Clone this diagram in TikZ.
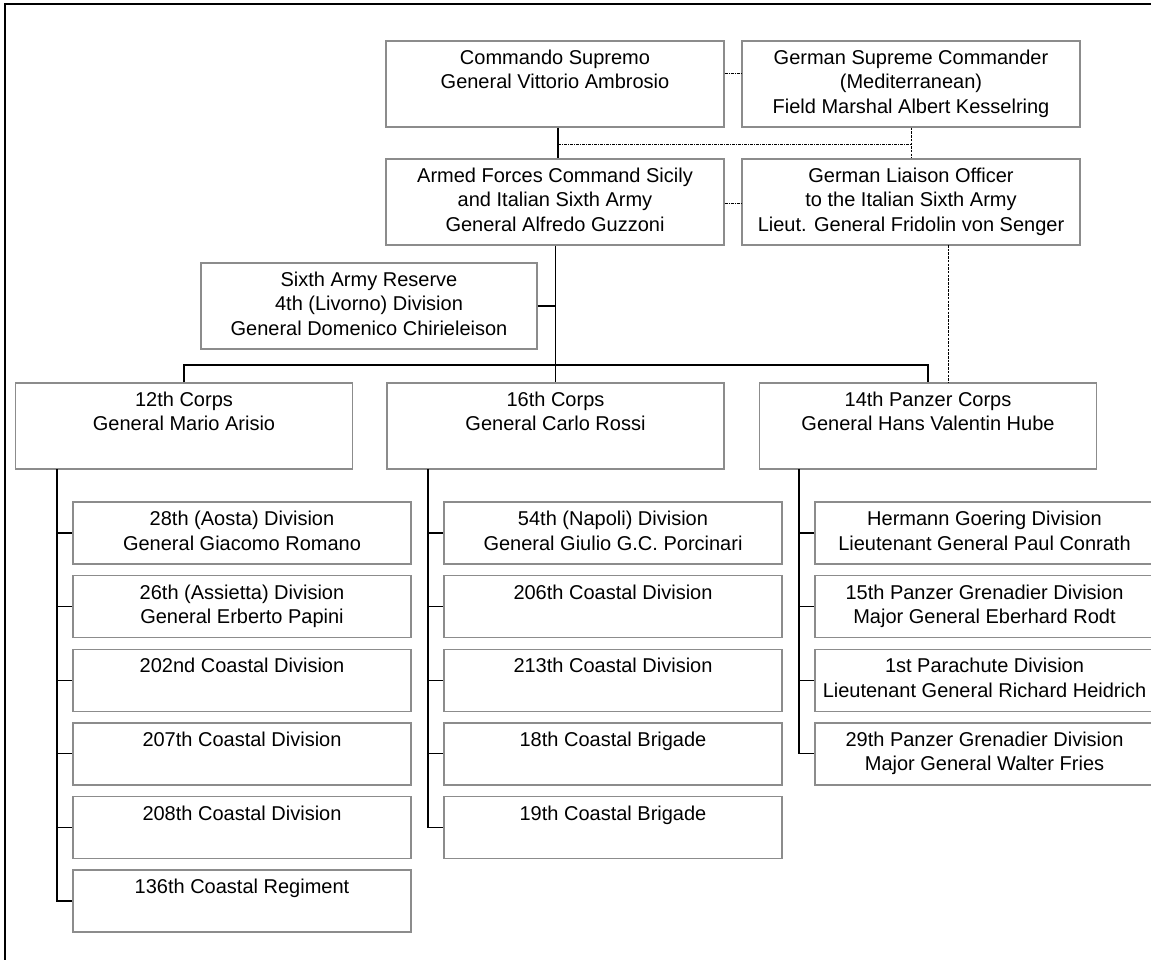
\documentclass[tikz,border=0pt]{standalone}
\usepackage{fontspec}
\setmainfont{Liberation Sans}
\begin{document}
\begin{tikzpicture}[x=1pt,y=-1pt]
\definecolor{boxgray}{RGB}{140,140,140}
\tikzset{
  box/.style={draw=boxgray, line width=1.4pt, inner sep=0pt, align=center,
    font=\fontsize{20}{24.5}\selectfont, fill=white},
  topbox/.style={box, minimum width=338pt, minimum height=86pt},
  reservebox/.style={box, minimum width=336pt, minimum height=86pt},
  corpsbox/.style={box, minimum width=337pt, minimum height=86pt},
  unitbox/.style={box, minimum width=338pt, minimum height=62pt},
  solidline/.style={black, line width=1.3pt},
  dotline/.style={black, line width=0.9pt, dash pattern=on 3pt off 1pt on 1pt off 1pt},
  fineline/.style={black, line width=0.9pt, dash pattern=on 2.5pt off 1.2pt},
  frameline/.style={black, line width=1.6pt}
}
\useasboundingbox (0,0) rectangle (1151,959);
% frame
\draw[frameline] (5,975) -- (5,4) -- (1170,4);

% top level
\node[topbox] (cmd) at (555,84) {\strut Commando Supremo\\\strut General Vittorio Ambrosio\\\strut};
\node[topbox] (gsc) at (911,84) {\strut German Supreme Commander\\\strut (Mediterranean)\\\strut Field Marshal Albert Kesselring};
\node[topbox] (afc) at (555,202) {\strut Armed Forces Command Sicily\\\strut and Italian Sixth Army\\\strut General Alfredo Guzzoni};
\node[topbox] (glo) at (911,202) {\strut German Liaison Officer\\\strut to the Italian Sixth Army\\\strut Lieut. General Fridolin von Senger};
\node[reservebox] (res) at (369,306) {\strut Sixth Army Reserve\\\strut 4th (Livorno) Division\\\strut General Domenico Chirieleison};

% corps
\node[corpsbox] (c12) at (184,426) {\strut 12th Corps\\\strut General Mario Arisio\\\strut};
\node[corpsbox] (c16) at (555.5,426) {\strut 16th Corps\\\strut General Carlo Rossi\\\strut};
\node[corpsbox] (c14) at (928,426) {\strut 14th Panzer Corps\\\strut General Hans Valentin Hube\\\strut};

% 12th corps units
\node[unitbox] (a1) at (242,533) {\strut 28th (Aosta) Division\\\strut General Giacomo Romano};
\node[unitbox] (a2) at (242,606.6) {\strut 26th (Assietta) Division\\\strut General Erberto Papini};
\node[unitbox] (a3) at (242,680.2) {\strut 202nd Coastal Division\\\strut};
\node[unitbox] (a4) at (242,753.8) {\strut 207th Coastal Division\\\strut};
\node[unitbox] (a5) at (242,827.4) {\strut 208th Coastal Division\\\strut};
\node[unitbox] (a6) at (242,901) {\strut 136th Coastal Regiment\\\strut};

% 16th corps units
\node[unitbox] (b1) at (613,533) {\strut 54th (Napoli) Division\\\strut General Giulio G.C. Porcinari};
\node[unitbox] (b2) at (613,606.6) {\strut 206th Coastal Division\\\strut};
\node[unitbox] (b3) at (613,680.2) {\strut 213th Coastal Division\\\strut};
\node[unitbox] (b4) at (613,753.8) {\strut 18th Coastal Brigade\\\strut};
\node[unitbox] (b5) at (613,827.4) {\strut 19th Coastal Brigade\\\strut};

% 14th panzer corps units
\node[unitbox, minimum width=339pt] (d1) at (984.5,533) {\strut Hermann Goering Division\\\strut Lieutenant General Paul Conrath};
\node[unitbox, minimum width=339pt] (d2) at (984.5,606.6) {\strut 15th Panzer Grenadier Division\\\strut Major General Eberhard Rodt};
\node[unitbox, minimum width=339pt] (d3) at (984.5,680.2) {\strut 1st Parachute Division\\\strut Lieutenant General Richard Heidrich};
\node[unitbox, minimum width=339pt] (d4) at (984.5,753.8) {\strut 29th Panzer Grenadier Division\\\strut Major General Walter Fries};

% coordinates
\coordinate (dj) at (558,144);
\coordinate (gj) at (911,144);
\coordinate (bus) at (555.5,365);
\coordinate (busL) at (184,365);
\coordinate (busR) at (928,365);
\coordinate (resj) at (555.5,306);
\coordinate (v12) at (57,469);
\coordinate (v16) at (428,469);
\coordinate (v14) at (799,469);
\coordinate (senger) at (948,245);

% top-level connectors
\draw[solidline] (cmd.south -| dj) -- (afc.north -| dj);
\draw[dotline] (cmd.east |- 0,73) -- (gsc.west |- 0,73);
\draw[dotline] (dj) -- (gj);
\draw[fineline] (gsc.south) -- (glo.north);
\draw[dotline] (afc.east |- 0,203) -- (glo.west |- 0,203);
\draw[fineline] (senger) -- (c14.north -| senger);

% trunk and bus
\draw[solidline] (afc.south -| bus) -- (c16.north);
\draw[solidline] (res.east) -- (resj);
\draw[solidline] (c12.north) -- (busL) -- (busR) -- (c14.north);

% 12th corps
\draw[solidline] (v12) -- (v12 |- a6.west) -- (a6.west);
\foreach \n in {a1,a2,a3,a4,a5} \draw[solidline] (v12 |- \n.west) -- (\n.west);
% 16th corps
\draw[solidline] (v16) -- (v16 |- b5.west) -- (b5.west);
\foreach \n in {b1,b2,b3,b4} \draw[solidline] (v16 |- \n.west) -- (\n.west);
% 14th panzer corps
\draw[solidline] (v14) -- (v14 |- d4.west) -- (d4.west);
\foreach \n in {d1,d2,d3} \draw[solidline] (v14 |- \n.west) -- (\n.west);
\end{tikzpicture}
\end{document}
